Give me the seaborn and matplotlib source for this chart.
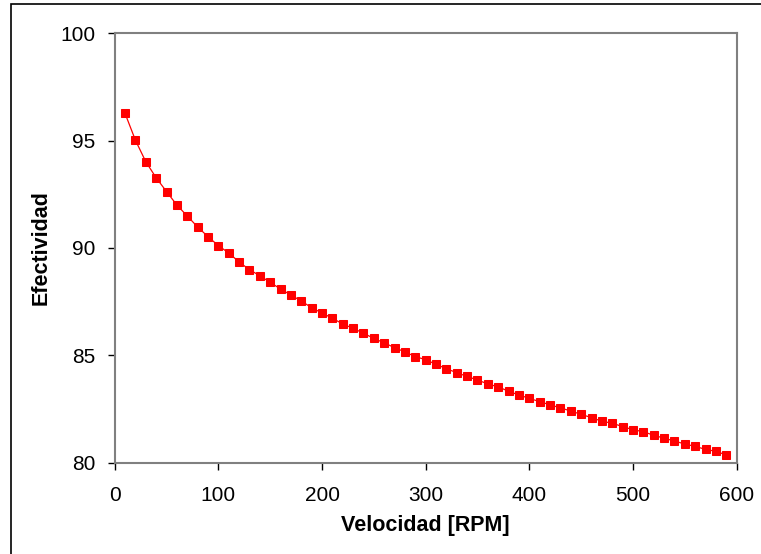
import matplotlib
matplotlib.use("Agg")
import matplotlib.pyplot as plt
from matplotlib.patches import Rectangle
import pandas as pd
import seaborn as sns

# Speed (RPM) and effectiveness readings
velocidad = [10, 20, 30, 40, 50, 60, 70, 80, 90, 100,
             110, 120, 130, 140, 150, 160, 170, 180, 190, 200,
             210, 220, 230, 240, 250, 260, 270, 280, 290, 300,
             310, 320, 330, 340, 350, 360, 370, 380, 390, 400,
             410, 420, 430, 440, 450, 460, 470, 480, 490, 500,
             510, 520, 530, 540, 550, 560, 570, 580, 590]
efectividad = [96.27, 95.02, 94.02, 93.27, 92.63, 92.00, 91.49, 90.98, 90.53, 90.11,
               89.77, 89.35, 88.99, 88.71, 88.40, 88.09, 87.81, 87.53, 87.22, 86.97,
               86.73, 86.46, 86.26, 86.03, 85.79, 85.58, 85.36, 85.16, 84.94, 84.80,
               84.58, 84.38, 84.19, 84.02, 83.85, 83.67, 83.53, 83.33, 83.15, 83.00,
               82.84, 82.70, 82.55, 82.41, 82.25, 82.10, 81.93, 81.84, 81.68, 81.54,
               81.44, 81.28, 81.14, 81.01, 80.87, 80.76, 80.62, 80.53, 80.36]

x_ticks = [0, 100, 200, 300, 400, 500, 600]
y_ticks = [80, 85, 90, 95, 100]

df = pd.DataFrame({"Velocidad [RPM]": velocidad, "Efectividad": efectividad})

sns.set_style("white")
plt.rcParams["font.family"] = ["Liberation Sans", "DejaVu Sans"]

fig = plt.figure(figsize=(7.61, 5.54), dpi=100)
ax = fig.add_axes([0.1507, 0.1648, 0.968 - 0.1507, 0.9399 - 0.1648])

sns.lineplot(data=df, x="Velocidad [RPM]", y="Efectividad", ax=ax,
             color="#ff0000", linewidth=0.9, marker="s", markersize=5.5,
             markeredgecolor="#ff0000", markerfacecolor="#ff0000")

ax.set_xlim(0, 600)
ax.set_ylim(80, 100)
ax.set_xticks(x_ticks)
ax.set_yticks(y_ticks)
ax.tick_params(axis="both", which="major", direction="out", length=5, width=1,
               color="#000000", labelsize=15, labelcolor="#000000",
               bottom=True, left=True, top=False, right=False)
ax.tick_params(axis="x", pad=12)
ax.tick_params(axis="y", pad=9)

for side in ["left", "bottom", "top", "right"]:
    ax.spines[side].set_visible(True)
    ax.spines[side].set_color("#808080")
    ax.spines[side].set_linewidth(1.5)

ax.set_xlabel("Velocidad [RPM]", fontsize=15.5, fontweight="bold",
              color="#000000", labelpad=7)
ax.set_ylabel("Efectividad", fontsize=15.5, fontweight="bold",
              color="#000000", labelpad=6)

# outer chart frame
fig.patches.append(Rectangle((11 / 761, -0.1), 1.2, 1 - 4 / 554 + 0.1,
                             transform=fig.transFigure, fill=False,
                             edgecolor="#000000", linewidth=1.2))

fig.savefig("out.png", dpi=100)
